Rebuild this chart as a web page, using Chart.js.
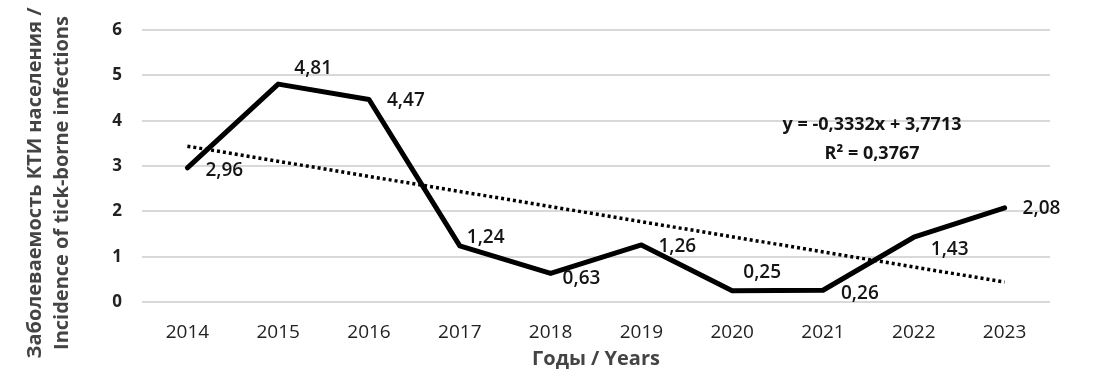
<!DOCTYPE html>
<html>
<head>
<meta charset="utf-8">
<script src="https://cdn.jsdelivr.net/npm/chart.js@4/dist/chart.umd.min.js"></script>
<style>
html,body{margin:0;padding:0;background:#fff;}
#wrap{width:1100px;height:378px;}
</style>
</head>
<body>
<div id="wrap"><canvas id="c" width="1100" height="378"></canvas></div>
<script>
const years = ['2014','2015','2016','2017','2018','2019','2020','2021','2022','2023'];
const incidence = [2.96, 4.81, 4.47, 1.24, 0.63, 1.26, 0.25, 0.26, 1.43, 2.08];
const trend = [3.44, null, null, null, null, null, null, null, null, 0.44];
const valueLabels = ['2,96','4,81','4,47','1,24','0,63','1,26','0,25','0,26','1,43','2,08'];
const equationLines = ['y = -0,3332x + 3,7713', 'R\u00B2 = 0,3767'];
const yTitle = ['Заболеваемость КТИ населения /', 'Incidence of tick-borne infections'];
const xTitle = 'Годы / Years';

const FONT = "'Open Sans', 'DejaVu Sans', sans-serif";

// label placement relative to each point: [dx, dy, align]
const labelOffsets = [
  [18, 3, 'left'], [35, -16, 'center'], [18, 1, 'left'], [7, -8, 'left'], [12, 5, 'left'],
  [17, 2, 'left'], [30, -18, 'center'], [18, 3, 'left'], [17, 12, 'left'], [18, 1, 'left']
];

const labelPlugin = {
  id: 'labels',
  afterDatasetsDraw(chart) {
    const ctx = chart.ctx;
    const meta = chart.getDatasetMeta(0);
    ctx.save();
    ctx.font = "600 19px " + FONT;
    ctx.fillStyle = '#151515';
    ctx.textBaseline = 'middle';
    meta.data.forEach((pt, i) => {
      const o = labelOffsets[i];
      ctx.textAlign = o[2];
      ctx.fillText(valueLabels[i], pt.x + o[0], pt.y + o[1]);
    });
    // equation
    const xs = chart.scales.x, ys = chart.scales.y;
    ctx.font = "bold 18px " + FONT;
    ctx.textAlign = 'center';
    ctx.fillStyle = '#151515';
    const ex = xs.getPixelForValue(7.54);
    ctx.fillText(equationLines[0], ex, ys.getPixelForValue(3.9));
    ctx.fillText(equationLines[1], ex, ys.getPixelForValue(3.28));
    // y axis title (two lines, rotated)
    ctx.font = "bold 20px " + FONT;
    ctx.fillStyle = '#444';
    ctx.textAlign = 'center';
    ctx.textBaseline = 'middle';
    const cy = 183;
    [35, 62].forEach((x, i) => {
      ctx.save();
      ctx.translate(x, cy);
      ctx.rotate(-Math.PI / 2);
      ctx.fillText(yTitle[i], 0, 0);
      ctx.restore();
    });
    ctx.restore();
  }
};

new Chart(document.getElementById('c'), {
  type: 'line',
  data: {
    labels: years,
    datasets: [
      {
        data: incidence,
        borderColor: '#000',
        borderWidth: 5,
        pointRadius: 0,
        tension: 0,
        borderJoinStyle: 'round',
        borderCapStyle: 'round',
        order: 0
      },
      {
        data: trend,
        borderColor: '#000',
        borderWidth: 3.5,
        borderDash: [3, 3],
        pointRadius: 0,
        spanGaps: true,
        order: 1
      }
    ]
  },
  options: {
    responsive: false,
    animation: false,
    devicePixelRatio: 1,
    layout: { padding: { top: 22, right: 50, left: 0, bottom: 0 } },
    plugins: { legend: { display: false }, tooltip: { enabled: false } },
    scales: {
      x: {
        offset: true,
        grid: { display: false, drawTicks: false },
        border: { display: false },
        ticks: { color: '#222', font: { family: FONT, size: 19 }, padding: 19 },
        title: { display: true, text: xTitle, color: '#444', font: { family: FONT, size: 20, weight: 'bold' }, padding: { top: 0, bottom: 7 } },
        afterFit(s) { s.height = 76; }
      },
      y: {
        min: 0, max: 6,
        grid: { color: '#d9d9d9', lineWidth: 2, drawTicks: false },
        border: { display: false },
        ticks: { stepSize: 1, color: '#222', font: { family: FONT, size: 17, weight: 'bold' }, padding: 20 },
        title: { display: false },
        afterFit(s) { s.width = 142; }
      }
    }
  },
  plugins: [labelPlugin]
});
</script>
</body>
</html>
